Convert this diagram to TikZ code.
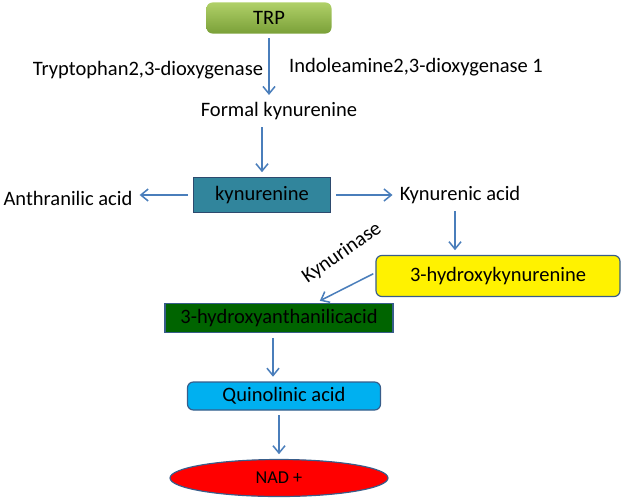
\documentclass[tikz,border=0pt]{standalone}
\usepackage{fontspec}
\setmainfont{Carlito}
\definecolor{arrowblue}{RGB}{74, 126, 187}
\definecolor{edgeblue}{RGB}{56, 93, 138}
\definecolor{trptop}{RGB}{176, 208, 104}
\definecolor{trpbottom}{RGB}{122, 160, 56}
\definecolor{kyncol}{RGB}{49, 133, 156}
\definecolor{haacol}{RGB}{0, 100, 0}
\definecolor{quincol}{RGB}{0, 176, 240}
\usetikzlibrary{arrows.meta, shapes.geometric}

\begin{document}
\begin{tikzpicture}[
    x=0.03cm, y=-0.03cm,
    every node/.style={font=\fontsize{17.5}{20}\selectfont, inner sep=2pt},
    box/.style={draw=edgeblue, line width=1pt, minimum height=0.9cm},
    rbox/.style={box, rounded corners=5pt},
    label/.style={},
    arr/.style={draw=arrowblue, line width=1.3pt, -{Straight Barb[length=2.2mm, width=3.6mm]}, shorten <=4pt, shorten >=4pt}
]
\useasboundingbox (0,0) rectangle (628,503);

\node[rounded corners=5pt, top color=trptop, bottom color=trpbottom, minimum width=3.75cm, minimum height=0.93cm] (trp) at (269,18) {TRP};
\node[label] (tdo) at (148,70) {Tryptophan2,3-dioxygenase};
\node[label] (ido) at (416,67) {Indoleamine2,3-dioxygenase 1};
\node[label] (formal) at (279,111) {Formal kynurenine};

\node[box, fill=kyncol, draw=edgeblue!80!black, minimum width=4.11cm, minimum height=1.05cm] (kyn) at (262,195) {kynurenine};
\node[label] (anth) at (68,198) {Anthranilic acid};
\node[label] (kynacid) at (460,195) {Kynurenic acid};

\node[rbox, fill=yellow, minimum width=7.32cm, minimum height=1.23cm] (hk) at (498,276) {3-hydroxykynurenine};
\node[label, rotate=35, inner sep=0pt] (kynase) at (342,253) {Kynurinase};
\node[box, fill=haacol, minimum width=6.84cm, minimum height=0.87cm] (haa) at (279,318) {3-hydroxyanthanilicacid};

\node[rbox, fill=quincol, minimum width=5.79cm, minimum height=0.84cm] (quin) at (284,396) {Quinolinic acid};
\node[ellipse, draw=edgeblue, line width=1pt, fill=red, minimum width=6.54cm, minimum height=1.11cm, font=\fontsize{15.5}{18}\selectfont] (nad) at (279,478) {NAD +};

\draw[arr] (trp.south) -- (trp.south |- formal.north);
\draw[arr] (kyn.north |- formal.south) -- (kyn.north);
\draw[arr] (kyn.west) -- (kyn.west -| anth.east);
\draw[arr] (kyn.east) -- (kyn.east -| kynacid.west);
\draw[arr] ([xshift=-0.15cm]kynacid.south) -- ([xshift=-0.15cm]kynacid.south |- hk.north);
\draw[arr, shorten <=2pt] ([yshift=0.1cm]hk.west) -- ([xshift=1.1cm]haa.north);
\draw[arr] ([xshift=-0.18cm]haa.south) -- ([xshift=-0.18cm]haa.south |- quin.north);
\draw[arr] (quin.south -| nad.north) -- (nad.north);
\end{tikzpicture}
\end{document}
